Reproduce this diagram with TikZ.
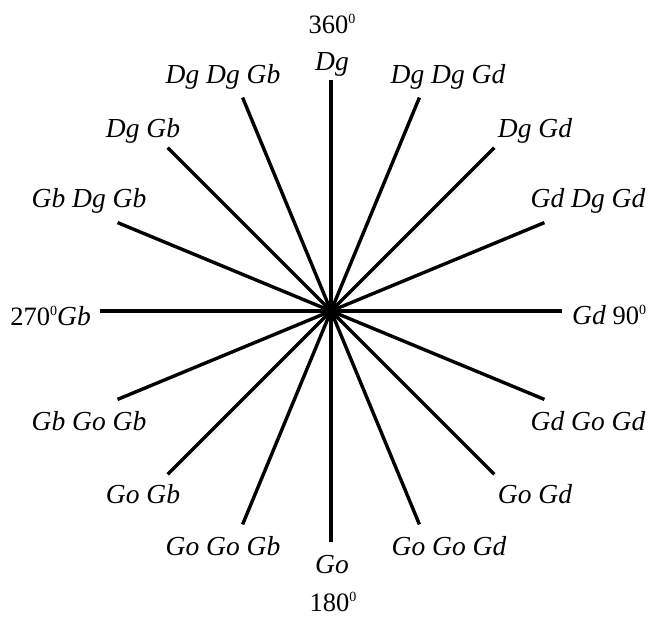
\documentclass[tikz,border=0pt]{standalone}
\usepackage{fontspec}
\setmainfont{Liberation Serif}
\usetikzlibrary{calc}
\newcommand{\degsup}{\raisebox{10pt}{\fontsize{14}{14}\selectfont\upshape 0}}
\begin{document}
\begin{tikzpicture}[x=1pt,y=-1pt,
  ray/.style={line width=3.4pt},
  lab/.style={font=\fontsize{27.5}{31}\selectfont\itshape, anchor=base, inner sep=0pt},
  num/.style={font=\fontsize{26.5}{30}\selectfont, anchor=base, inner sep=0pt}]
\useasboundingbox (0,0) rectangle (650,616);
\node[circle, fill=black, inner sep=0pt, minimum size=12pt] (c) at (331,311) {};
\foreach \i in {0,...,15}{
  \coordinate (e\i) at ($(331,311)+(\i*22.5:231)$);
}
\foreach \i in {0,...,15}{
  \draw[ray] (c.center) -- (e\i);
}
% labels
\node[num] (n360) at (332,33) {360\degsup};
\node[lab] (l0) at (332,70) {Dg};
\node[lab] (l1) at (448,83) {Dg Dg Gd};
\node[lab] (l2) at (535,137) {Dg Gd};
\node[lab] (l3) at (588,207) {Gd Dg Gd};
\node[lab, anchor=base west] (l4) at (572,324) {Gd {\fontsize{26.5}{30}\selectfont\upshape 90\degsup}};
\node[lab] (l5) at (588,430) {Gd Go Gd};
\node[lab] (l6) at (535,503) {Go Gd};
\node[lab] (l7) at (449,555) {Go Go Gd};
\node[lab] (l8) at (332,573) {Go};
\node[num] (n180) at (333,611) {180\degsup};
\node[lab] (l9) at (223,555) {Go Go Gb};
\node[lab] (l10) at (143,503) {Go Gb};
\node[lab] (l11) at (89,430) {Gb Go Gb};
\node[lab, anchor=base east] (l12) at (91,325) {{\fontsize{26.5}{30}\selectfont\upshape 270\degsup}Gb};
\node[lab] (l13) at (89,207) {Gb Dg Gb};
\node[lab] (l14) at (143,137) {Dg Gb};
\node[lab] (l15) at (223,83) {Dg Dg Gb};
\end{tikzpicture}
\end{document}
